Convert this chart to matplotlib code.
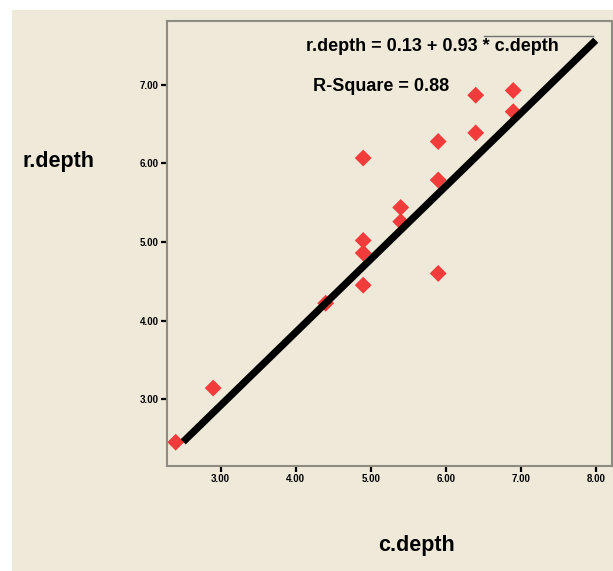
import numpy as np
import matplotlib.pyplot as plt
from matplotlib.patches import Rectangle

# data
c_depth = [2.4, 2.9, 4.4, 4.9, 4.9, 4.9, 4.9, 5.4, 5.4, 5.9, 5.9, 5.9, 6.4, 6.4, 6.9, 6.9]
r_depth = [2.45, 3.14, 4.22, 5.02, 4.86, 4.45, 6.07, 5.44, 5.26, 4.60, 5.79, 6.28, 6.39, 6.87, 6.93, 6.66]

intercept = 0.13
slope = 0.93
r_square = 0.88
fit_x = np.array([2.5, 8.0])

x_ticks = [3, 4, 5, 6, 7, 8]
y_ticks = [3, 4, 5, 6, 7]

bg = '#efe9d9'
plt.rcParams['font.family'] = ['Liberation Sans', 'DejaVu Sans']

fig = plt.figure(figsize=(6.13, 5.71), dpi=100, facecolor='white')
# beige panel behind everything, white strip top/left like the screenshot
fig.patches.append(Rectangle((12 / 613, 0), 1, 1 - 10 / 571, transform=fig.transFigure,
                             facecolor=bg, edgecolor='none', zorder=-10))

ax = fig.add_axes([167 / 613, 1 - 466 / 571, 445 / 613, 445 / 571])
ax.set_facecolor(bg)

ax.scatter(c_depth, r_depth, marker='D', s=8.6 ** 2, color='#f23b3b', edgecolors='none', zorder=2)
ax.plot(fit_x, intercept + slope * fit_x, color='black', lw=5.2, solid_capstyle='butt', zorder=3)
# thin leader line from the equation to the end of the fit line
ax.plot([6.51, 7.97], [7.63, 7.63], color='#707070', lw=1, zorder=3)

ax.set_xlim(2.284, 8.217)
ax.set_ylim(2.147, 7.815)
ax.set_xticks(x_ticks)
ax.set_yticks(y_ticks)
ax.set_xticklabels([f'{v:.2f}' for v in x_ticks])
ax.set_yticklabels([f'{v:.2f}' for v in y_ticks])
ax.tick_params(length=4.5, width=1.6, labelsize=7, pad=1.5, color='black')
for lab in ax.get_xticklabels() + ax.get_yticklabels():
    lab.set_fontweight('bold')

for sp in ax.spines.values():
    sp.set_color('#8e8c80')
    sp.set_linewidth(1.5)

ax.text(0.312, 0.9416, f'r.depth = {intercept:.2f} + {slope:.2f} * c.depth', transform=ax.transAxes,
        fontsize=13, fontweight='bold', va='center', ha='left')
ax.text(0.328, 0.8517, f'R-Square = {r_square:.2f}', transform=ax.transAxes,
        fontsize=13, fontweight='bold', va='center', ha='left')

fig.text(58 / 613, 1 - 162 / 571, 'r.depth', fontsize=15.5, fontweight='bold', ha='center', va='center')
fig.text(416 / 613, 1 - 546 / 571, 'c.depth', fontsize=15.5, fontweight='bold', ha='center', va='center')

fig.savefig('out.png', dpi=100, facecolor='white')
